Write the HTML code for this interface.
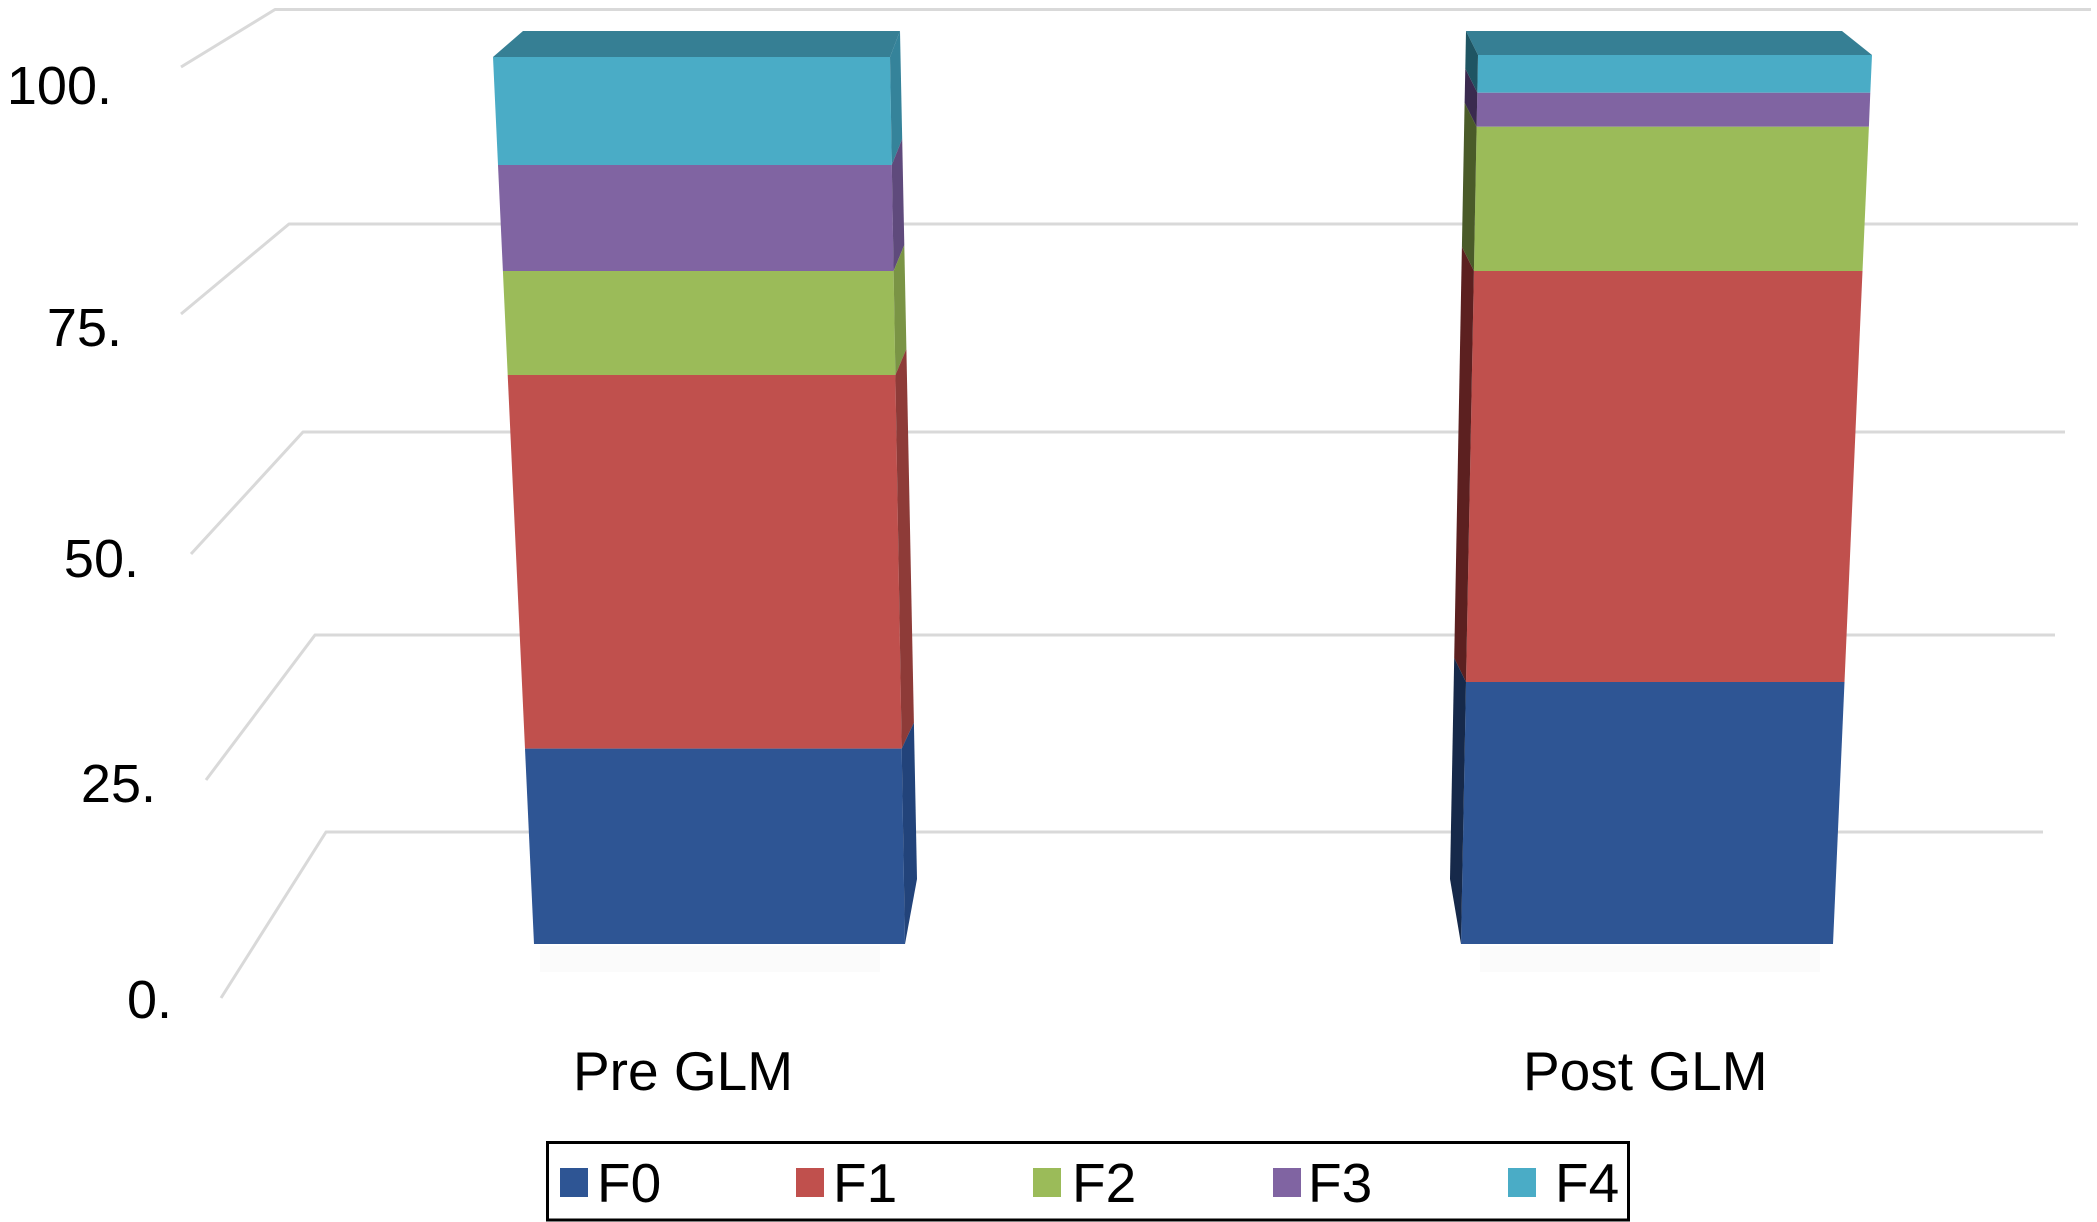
<!DOCTYPE html>
<html>
<head>
<meta charset="utf-8">
<style>
  html, body { margin:0; padding:0; background:#ffffff; }
  body { width:2097px; height:1222px; overflow:hidden; }
  svg { display:block; }
  text { font-family: "Liberation Sans", Arial, sans-serif; fill:#000; }
</style>
</head>
<body>
<svg width="2097" height="1222" viewBox="0 0 2097 1222" xmlns="http://www.w3.org/2000/svg">
  <rect x="0" y="0" width="2097" height="1222" fill="#ffffff"/>

  <!-- gridlines -->
  <g fill="none" stroke="#d9d9d9" stroke-width="3" stroke-linejoin="round">
    <polyline points="181,67 275,9.5 2091,9.5"/>
    <polyline points="181,314 289,224 2078,224"/>
    <polyline points="191,554 303,432 2065,432"/>
    <polyline points="206,780 315,635 2055,635"/>
    <polyline points="221,998 326,832 2043,832"/>
  </g>

  <!-- y labels -->
  <g font-size="54" text-anchor="end">
    <text x="112" y="104">100.</text>
    <text x="122" y="346">75.</text>
    <text x="139" y="577">50.</text>
    <text x="156" y="802">25.</text>
    <text x="172" y="1018">0.</text>
  </g>

  <!-- faint shadows -->
  <rect x="540" y="946" width="340" height="26" fill="#fbfbfb"/>
  <rect x="1480" y="946" width="340" height="26" fill="#fbfbfb"/>

  <!-- Bar 1: Pre GLM -->
  <g>
    <polygon points="493,57 890,57 891.8,165 498,165" fill="#4AACC6"/>
    <polygon points="498,165 891.8,165 893.6,271 502.9,271" fill="#8064A2"/>
    <polygon points="502.9,271 893.6,271 895.4,375 507.7,375" fill="#9BBB59"/>
    <polygon points="507.7,375 895.4,375 901.7,748.6 525,748.6" fill="#C0504D"/>
    <polygon points="525,748.6 901.7,748.6 905,944 534,944" fill="#2E5594"/>
    <polygon points="493,57 523,31 900,31 890,57" fill="#367F94"/>
    <polygon points="890,57 900,31 902.2,139 891.8,165" fill="#35839A"/>
    <polygon points="891.8,165 902.2,139 904.3,245 893.6,271" fill="#5F4A7C"/>
    <polygon points="893.6,271 904.3,245 906.4,349 895.4,375" fill="#7A9445"/>
    <polygon points="895.4,375 906.4,349 913.9,722.6 901.7,748.6" fill="#8E3B38"/>
    <polygon points="901.7,748.6 913.9,722.6 917,879 905,944" fill="#22437A"/>
  </g>

  <!-- Bar 2: Post GLM -->
  <g>
    <polygon points="1478,55 1872,55 1870.3,92.7 1477.3,92.7" fill="#4AACC6"/>
    <polygon points="1477.3,92.7 1870.3,92.7 1868.9,126.7 1476.6,126.7" fill="#8064A2"/>
    <polygon points="1476.6,126.7 1868.9,126.7 1862.5,271 1473.9,271" fill="#9BBB59"/>
    <polygon points="1473.9,271 1862.5,271 1844.5,682 1466,682" fill="#C0504D"/>
    <polygon points="1466,682 1844.5,682 1833,944 1461,944" fill="#2E5594"/>
    <polygon points="1478,55 1466,31 1842,31 1872,55" fill="#367F94"/>
    <polygon points="1478,55 1466,31 1465.3,68.7 1477.3,92.7" fill="#1F5563"/>
    <polygon points="1477.3,92.7 1465.3,68.7 1464.6,102.7 1476.6,126.7" fill="#3A2A4F"/>
    <polygon points="1476.6,126.7 1464.6,102.7 1461.9,247 1473.9,271" fill="#4A5B29"/>
    <polygon points="1473.9,271 1461.9,247 1454.2,658 1466,682" fill="#5C2020"/>
    <polygon points="1466,682 1454.2,658 1450,879 1461,944" fill="#16294A"/>
  </g>

  <!-- category labels -->
  <g font-size="55">
    <text x="573" y="1090">Pre GLM</text>
    <text x="1523" y="1090">Post GLM</text>
  </g>

  <!-- legend -->
  <rect x="547.5" y="1142.5" width="1081" height="77.5" fill="#ffffff" stroke="#000" stroke-width="3"/>
  <rect x="560" y="1168" width="28" height="29" fill="#2E5594"/>
  <rect x="796" y="1168" width="28" height="29" fill="#C0504D"/>
  <rect x="1033" y="1168" width="28" height="29" fill="#9BBB59"/>
  <rect x="1273" y="1168" width="28" height="29" fill="#8064A2"/>
  <rect x="1508" y="1168" width="28" height="29" fill="#4AACC6"/>
  <g font-size="55">
    <text x="597" y="1202">F0</text>
    <text x="833" y="1202">F1</text>
    <text x="1072" y="1202">F2</text>
    <text x="1308" y="1202">F3</text>
    <text x="1555" y="1202">F4</text>
  </g>
</svg>
</body>
</html>
